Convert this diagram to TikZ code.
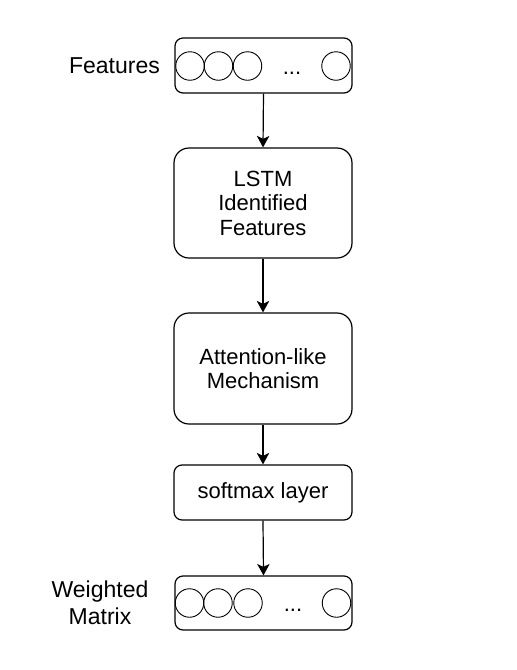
\documentclass[tikz,border=0pt]{standalone}
\usepackage{fontspec}
\setmainfont{Liberation Sans}
\usetikzlibrary{arrows.meta}
\begin{document}
\begin{tikzpicture}[x=1pt,y=1pt,
  box/.style={draw, line width=1.2pt, rounded corners=8pt, inner sep=0pt, align=center, font=\fontsize{22}{24.5}\selectfont, text=black},
  bigbox/.style={box, rounded corners=15pt},
  cell/.style={draw, line width=0.9pt, circle, minimum size=28.5pt, inner sep=0pt},
  lab/.style={align=center, font=\fontsize{23}{26.5}\selectfont, text=black, inner sep=0pt},
  arr/.style={line width=1.2pt, -{Stealth[length=11.5pt,width=12.5pt,inset=3pt]}}]
\useasboundingbox (0,0) rectangle (517,-670);
\fill[white] (0,0) rectangle (517,-670);
% top feature vector
\node[box, minimum width=177pt, minimum height=55pt] (top) at (263.5,-65.5) {};
\node[cell] (t1) at (190,-66) {};
\node[cell] (t2) at (218.5,-66) {};
\node[cell] (t3) at (247.5,-66) {};
\node[box, draw=none] (tdots) at (292,-73) {...};
\node[cell] (t4) at (336,-66) {};
\node[lab] (feat) at (114.5,-66) {Features};
% LSTM
\node[bigbox, minimum width=178pt, minimum height=110pt] (lstm) at (263,-203) {LSTM\\Identified\\Features};
% Attention
\node[bigbox, minimum width=178pt, minimum height=111pt] (att) at (263,-368.5) {Attention-like\\Mechanism};
% softmax
\node[box, minimum width=178pt, minimum height=55pt] (soft) at (263,-492.5) {softmax layer};
% bottom vector
\node[box, minimum width=177pt, minimum height=54pt] (bot) at (263.5,-603) {};
\node[cell] (b1) at (189.5,-603) {};
\node[cell] (b2) at (218,-603) {};
\node[cell] (b3) at (248,-603) {};
\node[box, draw=none] (bdots) at (293,-610) {...};
\node[cell] (b4) at (336.5,-603) {};
\node[lab] (wm) at (100,-603) {Weighted\\Matrix};
% arrows
\draw[arr] (top.south) -- (lstm.north);
\draw[arr] (lstm.south) -- (att.north);
\draw[arr] (att.south) -- (soft.north);
\draw[arr] (soft.south) -- (bot.north);
\end{tikzpicture}
\end{document}
